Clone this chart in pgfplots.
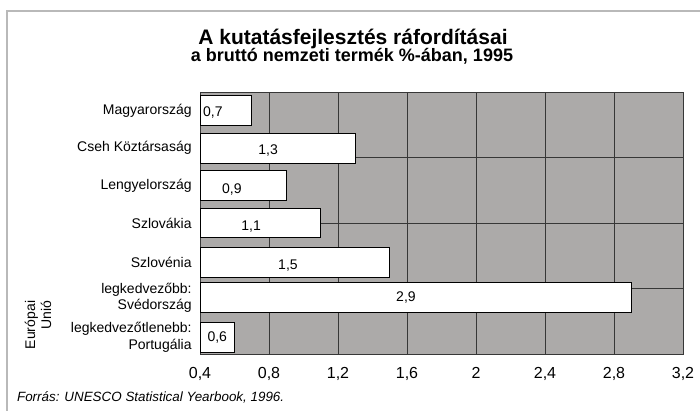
\documentclass[border=0pt]{standalone}
\usepackage{fontspec}
\setmainfont{Liberation Sans}
\usepackage{pgfplots}
\usepackage{pgfplotstable}
\pgfplotsset{compat=1.18}
\definecolor{halftone}{RGB}{172,170,169}
\definecolor{gridc}{RGB}{55,55,55}

% bar values (y = slot from the top)
\pgfplotstableread{
y    val
0.5  0.7
1.5  1.3
2.5  0.9
3.5  1.1
4.55 1.5
5.5  2.9
6.55 0.6
}\rd

% where the value labels sit inside the bars
\pgfplotstableread{
x     y    label
0.475 0.55 0,7
0.795 1.55 1,3
0.585 2.6  0,9
0.696 3.6  1,1
0.91  4.65 1,5
1.594 5.5  2,9
0.50  6.55 0,6
}\lab

\begin{document}
\begin{tikzpicture}
\path[use as bounding box] (0,0) rectangle (350pt,205.5pt);
\draw[gray!55, line width=0.6pt] (3.5pt,0) -- (3.5pt,200pt) -- (350pt,200pt);

\node[anchor=base, font=\bfseries\fontsize{10.5}{12}\selectfont] at (176.5pt,183pt) {A kutatásfejlesztés ráfordításai};
\node[anchor=base, font=\bfseries\fontsize{9}{11}\selectfont] at (176pt,174.5pt) {a bruttó nemzeti termék \%-ában, 1995};

\begin{axis}[
  at={(100pt,28.5pt)}, anchor=south west,
  scale only axis, width=241.5pt, height=131pt,
  xmin=0.4, xmax=3.2, ymin=0, ymax=7, y dir=reverse,
  axis background/.style={fill=halftone},
  axis line style={gridc, line width=0.5pt},
  xtick={0.4,0.8,1.2,1.6,2,2.4,2.8,3.2},
  xmajorgrids,
  grid style={gridc, line width=0.5pt},
  major tick length=0pt,
  /pgf/number format/use comma,
  /pgf/number format/assume math mode=true,
  xticklabel style={font=\fontsize{8}{9}\selectfont, yshift=-3pt},
  ytick={0.5,1.5,2.5,3.5,4.55,5.5,6.55},
  yticklabels={Magyarország, Cseh Köztársaság, Lengyelország, Szlovákia, Szlovénia,
    {legkedvezőbb:\\Svédország}, {legkedvezőtlenebb:\\Portugália}},
  yticklabel style={font=\fontsize{7}{8.4}\selectfont, align=right, inner sep=0pt, xshift=-4pt},
  extra y ticks={1.75,3.5,5.25},
  extra y tick labels={},
  extra y tick style={grid=major},
]
  \addplot[xbar, bar width=0.8, fill=white, draw=black, line width=0.5pt]
    table[x=val, y=y] {\rd};
  \addplot[draw=none, mark=none, nodes near coords, point meta=explicit symbolic,
    nodes near coords style={anchor=center, font=\fontsize{7}{8}\selectfont, text=black}]
    table[x=x, y=y, meta=label] {\lab};
\end{axis}

\node[rotate=90, align=right, font=\fontsize{7}{8}\selectfont] at (19pt,43pt) {Európai\\Unió};
\node[anchor=base west, font=\itshape\fontsize{6.7}{8}\selectfont] at (5pt,4.5pt) {Forrás: UNESCO Statistical Yearbook, 1996.};
\end{tikzpicture}
\end{document}
